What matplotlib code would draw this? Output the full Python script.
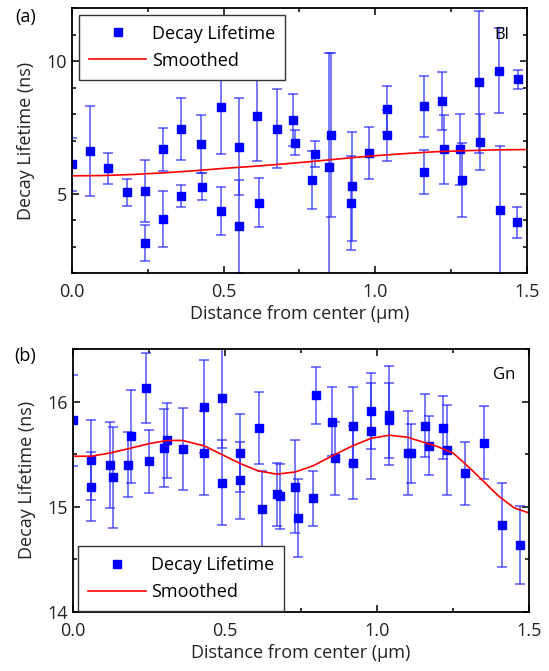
import numpy as np
import matplotlib
matplotlib.use("Agg")
import matplotlib.pyplot as plt
from matplotlib.ticker import MultipleLocator

plt.rcParams['font.family'] = ['Open Sans', 'DejaVu Sans']

# panel (a): Bl
x_a = [0.0, 0.06, 0.12, 0.18, 0.24, 0.24, 0.30, 0.30, 0.36, 0.36,
       0.425, 0.43, 0.49, 0.49, 0.55, 0.55, 0.61, 0.615, 0.675, 0.73,
       0.735, 0.80, 0.79, 0.853, 0.848, 0.922, 0.919, 0.98, 1.037, 1.04,
       1.162, 1.16, 1.22, 1.225, 1.28, 1.285, 1.342, 1.345, 1.408, 1.41,
       1.47, 1.467]
y_a = [6.10, 6.60, 5.95, 5.05, 5.10, 3.12, 6.67, 4.04, 7.43, 4.90,
       6.86, 5.26, 8.26, 4.34, 6.77, 3.76, 7.92, 4.65, 7.45, 7.76,
       6.92, 6.49, 5.51, 7.20, 6.00, 5.27, 4.63, 6.53, 7.20, 8.19,
       8.29, 5.81, 8.48, 6.67, 6.67, 5.51, 9.20, 6.95, 9.64, 4.38,
       9.31, 3.92]
err_a = [1.0, 1.7, 0.6, 0.5, 1.16, 0.68, 0.8, 1.05, 1.17, 0.41,
         1.1, 0.5, 1.77, 0.9, 1.83, 1.75, 1.7, 0.92, 1.5, 0.98,
         0.48, 0.5, 1.08, 3.1, 4.3, 2.07, 1.77, 0.97, 0.97, 0.88,
         1.14, 0.82, 1.09, 1.31, 1.33, 1.4, 2.67, 1.07, 1.6, 2.43,
         0.36, 0.58]
xs_a = [0.0, 0.1, 0.2, 0.3, 0.4, 0.5, 0.6, 0.7, 0.8, 0.9, 1.0, 1.1, 1.2, 1.3, 1.4, 1.5]
ys_a = [5.67, 5.68, 5.72, 5.78, 5.86, 5.95, 6.03, 6.12, 6.22, 6.33, 6.43, 6.51, 6.58, 6.62, 6.65, 6.66]

# panel (b): Gn
x_b = [0.0, 0.06, 0.06, 0.12, 0.13, 0.18, 0.19, 0.24, 0.25, 0.30,
       0.31, 0.36, 0.43, 0.43, 0.49, 0.49, 0.55, 0.55, 0.61, 0.62,
       0.67, 0.68, 0.73, 0.74, 0.79, 0.80, 0.85, 0.86, 0.92, 0.92,
       0.98, 0.98, 1.04, 1.04, 1.10, 1.11, 1.157, 1.17, 1.217, 1.228,
       1.29, 1.35, 1.41, 1.47]
y_b = [15.82, 15.44, 15.19, 15.40, 15.28, 15.40, 15.67, 16.13, 15.43, 15.56,
       15.63, 15.55, 15.95, 15.51, 16.03, 15.23, 15.51, 15.25, 15.75, 14.98,
       15.12, 15.10, 15.19, 14.89, 15.08, 16.06, 15.81, 15.46, 15.77, 15.42,
       15.91, 15.72, 15.87, 15.82, 15.51, 15.51, 15.77, 15.58, 15.75, 15.54,
       15.32, 15.61, 14.83, 14.64]
err_b = [0.43, 0.38, 0.33, 0.41, 0.48, 0.31, 0.44, 0.33, 0.30, 0.37,
         0.36, 0.39, 0.44, 0.40, 0.47, 0.40, 0.37, 0.365, 0.34, 0.36,
         0.30, 0.31, 0.44, 0.37, 0.26, 0.27, 0.33, 0.35, 0.365, 0.35,
         0.36, 0.46, 0.47, 0.36, 0.40, 0.28, 0.30, 0.28, 0.30, 0.43,
         0.30, 0.35, 0.40, 0.37]
xs_b = [0.0, 0.06, 0.12, 0.18, 0.25, 0.31, 0.36, 0.43, 0.48, 0.55, 0.61, 0.67, 0.73,
        0.79, 0.85, 0.92, 0.98, 1.04, 1.1, 1.2, 1.25, 1.3, 1.35, 1.4, 1.45, 1.5]
ys_b = [15.48, 15.48, 15.51, 15.55, 15.60, 15.63, 15.63, 15.58, 15.51, 15.41, 15.34, 15.31, 15.33,
        15.39, 15.48, 15.58, 15.65, 15.68, 15.66, 15.57, 15.51, 15.38, 15.24, 15.10, 14.99, 14.94]

fig = plt.figure(figsize=(5.49, 6.71), dpi=100)
ax1 = fig.add_axes([0.131, 0.593, 0.829, 0.395])
ax2 = fig.add_axes([0.133, 0.088, 0.831, 0.392])


def draw(ax, x, y, err, xs, ys, ylim, major, minor, tag, tag_y, loc, anchor):
    ax.errorbar(x, y, yerr=err, fmt='none', ecolor='#2020ff', alpha=0.7,
                elinewidth=1.2, capsize=3.5, capthick=1.2)
    ax.plot(x, y, 's', color='#0000ff', markersize=5.5, label='Decay Lifetime')
    ax.plot(xs, ys, '-', color='red', lw=1.2, label='Smoothed')
    ax.set_xlim(0, 1.5)
    ax.set_ylim(*ylim)
    ax.xaxis.set_major_locator(MultipleLocator(0.5))
    ax.xaxis.set_minor_locator(MultipleLocator(0.25))
    ax.yaxis.set_major_locator(MultipleLocator(major))
    ax.yaxis.set_minor_locator(MultipleLocator(minor))
    ax.tick_params(which='both', direction='in', top=True, right=True,
                   labelsize=13, labelcolor='#222222', width=1.1)
    ax.tick_params(which='major', length=5)
    ax.tick_params(which='minor', length=3)
    ax.tick_params(axis='x', pad=7)
    for s in ax.spines.values():
        s.set_linewidth(1.3)
    ax.set_xlabel('Distance from center (µm)', fontsize=13, labelpad=3, color='#222222')
    ax.set_ylabel('Decay Lifetime (ns)', fontsize=13, labelpad=8, color='#222222')
    ax.text(0.945, tag_y, tag, transform=ax.transAxes, fontsize=12, ha='center', va='center')
    leg = ax.legend(loc=loc, bbox_to_anchor=anchor, fontsize=13, numpoints=1,
                    fancybox=False, framealpha=1, edgecolor='#333333',
                    handlelength=3.2, handletextpad=0.3, borderaxespad=0,
                    borderpad=0.55, labelspacing=0.5)
    leg.get_frame().set_linewidth(1.0)


draw(ax1, x_a, y_a, err_a, xs_a, ys_a, (2, 12), 5, 1, 'Bl', 0.9,
     'upper left', (0.015, 0.975))
draw(ax2, x_b, y_b, err_b, xs_b, ys_b, (14, 16.5), 1, 0.5, 'Gn', 0.9,
     'lower left', (0.011, 0.004))

fig.text(0.046, 0.975, '(a)', fontsize=13, ha='center', va='center')
fig.text(0.046, 0.470, '(b)', fontsize=13, ha='center', va='center')

fig.savefig('out.png', dpi=100)
